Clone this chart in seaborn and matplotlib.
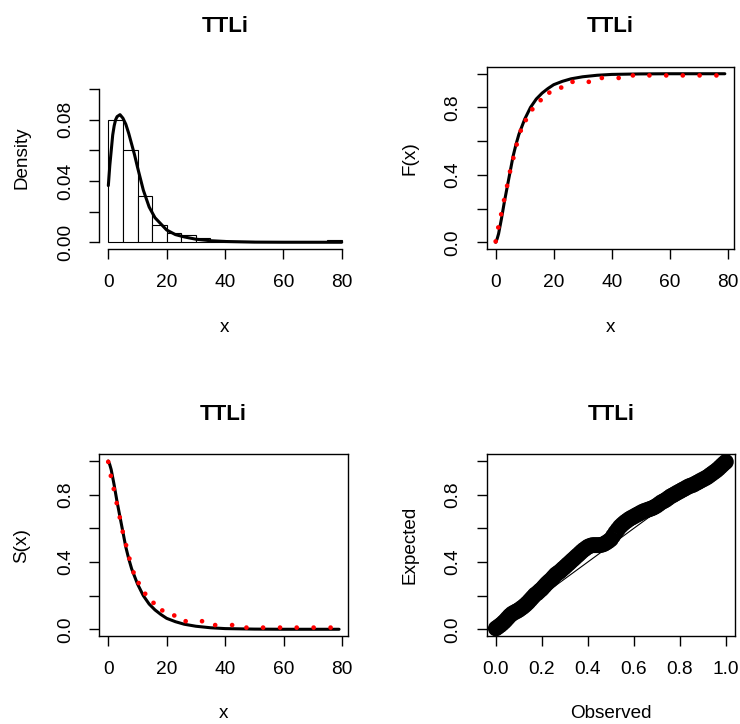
import matplotlib
matplotlib.use('Agg')
import matplotlib.pyplot as plt
import seaborn as sns

# histogram of the sample (density scale), bin width 5
bin_edges = [0, 5, 10, 15, 20, 25, 30, 35, 40, 45, 50, 55, 60, 65, 70, 75, 80]
bin_mids = [2.5, 7.5, 12.5, 17.5, 22.5, 27.5, 32.5, 37.5, 42.5, 47.5,
            52.5, 57.5, 62.5, 67.5, 72.5, 77.5]
hist_density = [0.080, 0.060, 0.030, 0.011, 0.006, 0.0045, 0.003, 0.0012,
                0.0008, 0.0008, 0, 0, 0, 0, 0, 0.0015]

# fitted TTLi density
pdf_x = [0, 0.5, 1, 1.5, 2, 2.5, 3, 4, 5, 6, 7, 8, 9, 10, 12, 14, 16, 18,
         20, 23, 26, 30, 35, 40, 50, 60, 80]
pdf_y = [0.037, 0.050, 0.060, 0.070, 0.076, 0.080, 0.082, 0.0833, 0.081,
         0.077, 0.071, 0.064, 0.057, 0.049, 0.034, 0.023, 0.016, 0.012,
         0.008, 0.005, 0.0035, 0.002, 0.001, 0.0005, 0.0001, 0.00002, 0]

# fitted TTLi cdf
cdf_x = [0, 0.5, 1, 2, 3, 4, 5, 6, 7, 8, 10, 12, 14, 16, 18, 20, 23, 26,
         30, 35, 40, 50, 60, 70, 79]
cdf_y = [0, 0.02, 0.05, 0.14, 0.24, 0.33, 0.42, 0.51, 0.58, 0.64, 0.73,
         0.80, 0.85, 0.885, 0.912, 0.935, 0.955, 0.97, 0.982, 0.991, 0.996,
         0.999, 1.0, 1.0, 1.0]

# empirical cdf points
emp_x = [0, 0.9, 1.9, 2.9, 3.95, 4.95, 6.1, 7.25, 8.65, 10.4, 12.65, 15.5,
         18.5, 22.6, 26.5, 32.1, 36.6, 42.4, 47.3, 53, 58.8, 64.5, 70.3, 76.1]
emp_F = [0.005, 0.088, 0.166, 0.25, 0.335, 0.42, 0.50, 0.58, 0.662, 0.725,
         0.789, 0.843, 0.888, 0.918, 0.952, 0.952, 0.975, 0.975, 0.99, 0.99,
         0.99, 0.99, 0.99, 0.99]

# P-P plot (observed vs expected)
pp_obs = [i / 100 for i in range(101)]
pp_exp = [0.005, 0.015, 0.025, 0.037, 0.05, 0.065, 0.08, 0.092, 0.10, 0.107,
          0.115, 0.125, 0.135, 0.147, 0.16, 0.175, 0.19, 0.205, 0.215, 0.228,
          0.24, 0.255, 0.27, 0.283, 0.295, 0.31, 0.325, 0.335, 0.345, 0.358,
          0.37, 0.383, 0.395, 0.408, 0.42, 0.433, 0.445, 0.458, 0.47, 0.48,
          0.49, 0.496, 0.50, 0.50, 0.50, 0.50, 0.502, 0.507, 0.515, 0.524,
          0.535, 0.555, 0.575, 0.593, 0.61, 0.623, 0.635, 0.645, 0.655, 0.663,
          0.67, 0.678, 0.685, 0.693, 0.70, 0.705, 0.71, 0.715, 0.72, 0.727,
          0.735, 0.745, 0.755, 0.762, 0.77, 0.78, 0.79, 0.797, 0.805, 0.813,
          0.82, 0.828, 0.835, 0.843, 0.85, 0.855, 0.86, 0.868, 0.875, 0.883,
          0.89, 0.897, 0.905, 0.915, 0.925, 0.935, 0.945, 0.957, 0.97, 0.983,
          0.995]

sns.set_style('ticks')
plt.rcParams['font.family'] = ['Liberation Sans', 'DejaVu Sans']
plt.rcParams.update({
    'axes.edgecolor': 'black', 'axes.linewidth': 1.0,
    'xtick.color': 'black', 'ytick.color': 'black', 'text.color': 'black',
    'axes.labelcolor': 'black',
    'xtick.major.size': 7.5, 'ytick.major.size': 7.5,
    'xtick.major.width': 1.0, 'ytick.major.width': 1.0,
    'xtick.major.pad': 10.5, 'ytick.major.pad': 10.5,
    'xtick.direction': 'out', 'ytick.direction': 'out',
    'xtick.labelsize': 13.8, 'ytick.labelsize': 13.8, 'axes.labelsize': 13.6,
})

W, H = 740, 724
fig = plt.figure(figsize=(7.4, 7.24), dpi=100)


def add_ax(l, r, t, b):
    return fig.add_axes([l / W, 1 - b / H, (r - l) / W, (b - t) / H])


def finish(ax, xlab, ylab, yticks, ylabels):
    ax.set_title('TTLi', fontweight='bold', fontsize=16, pad=25)
    ax.set_yticks(yticks)
    ax.set_yticklabels(ylabels, rotation=90, va='center')
    ax.set_xlabel(xlab)
    ax.set_ylabel(ylab)
    bb = ax.get_position()
    ax.xaxis.set_label_coords(0.5, -78 / (bb.height * H))
    ax.xaxis.label.set_verticalalignment('center')
    ax.yaxis.set_label_coords(-77 / (bb.width * W), 0.5)
    ax.yaxis.label.set_verticalalignment('center')


# density + histogram
ax1 = add_ax(99, 351, 67, 249)
sns.histplot(x=bin_mids, weights=hist_density, bins=bin_edges, stat='count',
             color='white', edgecolor='black', linewidth=0.8, alpha=1, ax=ax1)
sns.lineplot(x=pdf_x, y=pdf_y, color='black', lw=2.2, estimator=None, ax=ax1)
ax1.set_xlim(-3.2, 83.2)
ax1.set_ylim(-0.0044, 0.1144)
ax1.spines['top'].set_visible(False)
ax1.spines['right'].set_visible(False)
ax1.spines['left'].set_bounds(0, 0.10)
ax1.spines['bottom'].set_bounds(0, 80)
ax1.set_xticks([0, 20, 40, 60, 80])
finish(ax1, 'x', 'Density', [0, 0.02, 0.04, 0.06, 0.08, 0.10],
       ['0.00', '', '0.04', '', '0.08', ''])

prob_ticks = [0, 0.2, 0.4, 0.6, 0.8, 1.0]
prob_labels = ['0.0', '', '0.4', '', '0.8', '']

# cdf
ax2 = add_ax(486.5, 734, 67, 249)
sns.lineplot(x=cdf_x, y=cdf_y, color='black', lw=2.2, estimator=None, ax=ax2)
sns.scatterplot(x=emp_x, y=emp_F, color='red', s=11, edgecolor='none',
                zorder=3, ax=ax2)
ax2.set_xlim(-3.16, 82.16)
ax2.set_ylim(-0.04, 1.04)
ax2.set_xticks([0, 20, 40, 60, 80])
finish(ax2, 'x', 'F(x)', prob_ticks, prob_labels)

# survival
ax3 = add_ax(99, 348.3, 454.3, 636)
sns.lineplot(x=cdf_x, y=[1 - v for v in cdf_y], color='black', lw=2.2,
             estimator=None, ax=ax3)
sns.scatterplot(x=emp_x, y=[1 - v for v in emp_F], color='red', s=11,
                edgecolor='none', zorder=3, ax=ax3)
ax3.set_xlim(-3.16, 82.16)
ax3.set_ylim(-0.04, 1.04)
ax3.set_xticks([0, 20, 40, 60, 80])
finish(ax3, 'x', 'S(x)', prob_ticks, prob_labels)

# P-P plot
ax4 = add_ax(486.7, 735, 454.3, 636)
ax4.scatter(pp_obs, pp_exp, s=75, facecolors='none', edgecolors='black',
            linewidths=2.8)
sns.lineplot(x=[0, 1], y=[0, 1], color='black', lw=0.8, ax=ax4)
ax4.set_xlim(-0.04, 1.04)
ax4.set_ylim(-0.04, 1.04)
ax4.set_xticks(prob_ticks)
ax4.set_xticklabels(['0.0', '0.2', '0.4', '0.6', '0.8', '1.0'])
finish(ax4, 'Observed', 'Expected', prob_ticks, prob_labels)

fig.savefig('out.png', dpi=100)
